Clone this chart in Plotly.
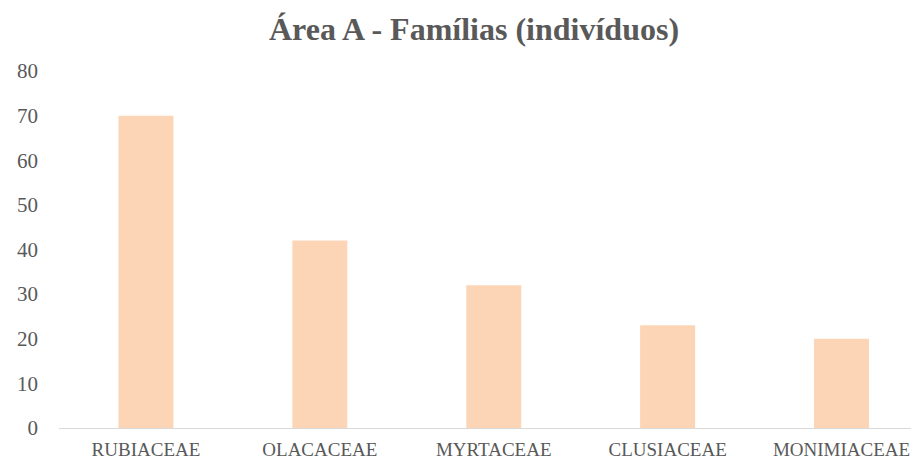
import plotly.graph_objects as go

categories = ["RUBIACEAE", "OLACACEAE", "MYRTACEAE", "CLUSIACEAE", "MONIMIACEAE"]
values = [70, 42, 32, 23, 20]
y_ticks = [0, 10, 20, 30, 40, 50, 60, 70, 80]

OFF = 8  # page body margin
W, H = 919 - OFF, 459 - OFF
left, right_px, top, bottom = 58.5 - OFF, 919 - OFF, 71 - OFF, 428 - OFF
cat_w = 174.0
x_lo = -0.5
x_hi = x_lo + (right_px - left) / cat_w
FONT = "Liberation Serif, Times New Roman, Times, serif"

fig = go.Figure(go.Bar(
    x=list(range(len(categories))),
    y=values,
    width=55 / cat_w,
    marker=dict(color="#FBD5B5", line=dict(width=0)),
))

fig.update_layout(
    width=W, height=H,
    margin=dict(l=left, r=W - right_px, t=top, b=H - bottom, autoexpand=False),
    paper_bgcolor="white", plot_bgcolor="white",
    showlegend=False,
    title=dict(text="<b>Área A - Famílias (indivíduos)</b>", x=(474 - OFF) / W, xanchor="center",
               y=1 - (29 - OFF) / H, yanchor="middle",
               font=dict(family=FONT, size=32, color="#595959")),
    xaxis=dict(range=[x_lo, x_hi], tickmode="array", tickvals=list(range(len(categories))),
               ticktext=categories, showgrid=False, zeroline=False,
               showline=True, linecolor="#D9D9D9", linewidth=1, ticks="",
               tickfont=dict(family=FONT, size=19, color="#595959"),
               ticklabelstandoff=4),
    yaxis=dict(range=[0, 80], tickmode="array", tickvals=y_ticks, showgrid=False,
               zeroline=False, showline=False, ticks="",
               tickfont=dict(family=FONT, size=21, color="#595959"),
               ticklabelstandoff=20),
)

fig.write_html("out.html")
